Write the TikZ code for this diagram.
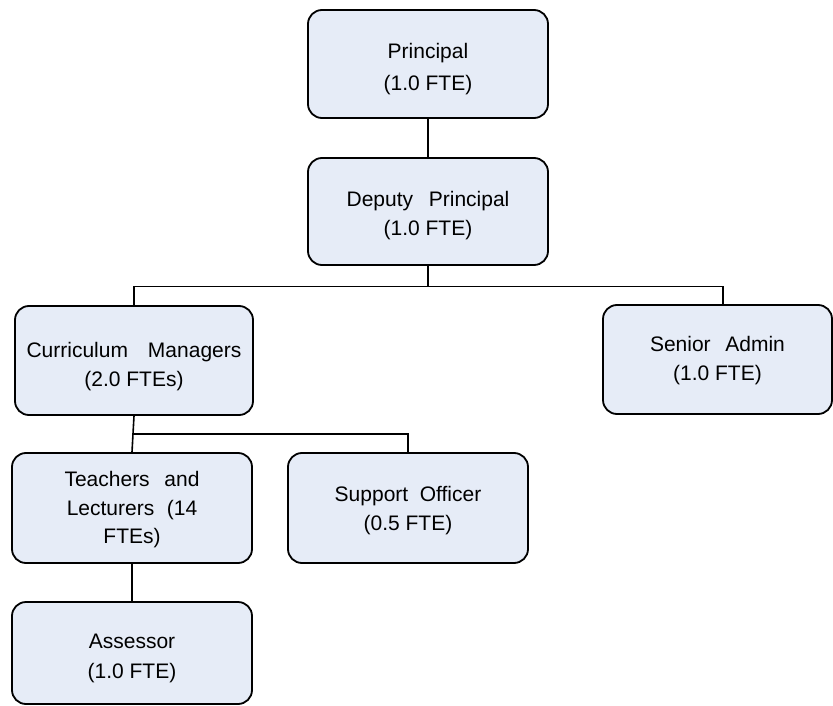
\documentclass[tikz,border=0pt]{standalone}
\usepackage{fontspec}
\setmainfont{Liberation Sans}
\definecolor{boxfill}{RGB}{230,236,247}
\newcommand{\wsp}{\hspace{0.7em}}
\newcommand{\toph}[1]{\rule{0pt}{#1pt}}
\tikzset{
  box/.style={draw=black, line width=1.8pt, fill=boxfill, rounded corners=14pt,
    align=center, inner sep=0pt, text=black},
  conn/.style={draw=black, line width=1.6pt}
}
\begin{document}
\begin{tikzpicture}[x=1pt,y=-1pt]
\useasboundingbox (0,0) rectangle (833,706);
\node[box, minimum width=240pt, minimum height=108pt, font=\fontsize{21}{31.7}\selectfont] (pr) at (428,64) {\toph{24.8}Principal\\(1.0 FTE)};
\node[box, minimum width=240pt, minimum height=107pt, font=\fontsize{21}{28.5}\selectfont] (dp) at (428,211.5) {\toph{23.4}Deputy\hspace{0.75em}Principal\\(1.0 FTE)};
\node[box, minimum width=238pt, minimum height=109pt, font=\fontsize{21}{29}\selectfont] (cm) at (134,360.5) {\toph{27.9}Curriculum\hspace{0.95em}Managers\\(2.0 FTEs)};
\node[box, minimum width=229pt, minimum height=109pt, font=\fontsize{21}{28.3}\selectfont] (sa) at (717.5,359.5) {\toph{17.2}Senior\wsp Admin\\(1.0 FTE)};
\node[box, minimum width=240pt, minimum height=110pt, font=\fontsize{21}{28.3}\selectfont] (tl) at (132,508) {\toph{18.5}Teachers\wsp and\\Lecturers\hspace{0.6em}(14\\FTEs)};
\node[box, minimum width=240pt, minimum height=110pt, font=\fontsize{21}{28.3}\selectfont] (so) at (408,508) {\toph{20.2}Support\hspace{0.55em}Officer\\(0.5 FTE)};
\node[box, minimum width=240pt, minimum height=102pt, font=\fontsize{21}{30}\selectfont] (as) at (132,653) {\toph{25.1}Assessor\\(1.0 FTE)};
\coordinate (j1) at (428,286.5);
\coordinate (j2) at (133,434);
\draw[conn] (pr.south) -- (dp.north);
\draw[conn] (dp.south) -- (j1) -| (cm.north);
\draw[conn] (j1) -| ([xshift=5.5pt]sa.north);
\draw[conn] (cm.south) -- (j2) -| (so.north);
\draw[conn] (j2) -- (tl.north);
\draw[conn] (tl.south) -- (as.north);
\end{tikzpicture}
\end{document}
